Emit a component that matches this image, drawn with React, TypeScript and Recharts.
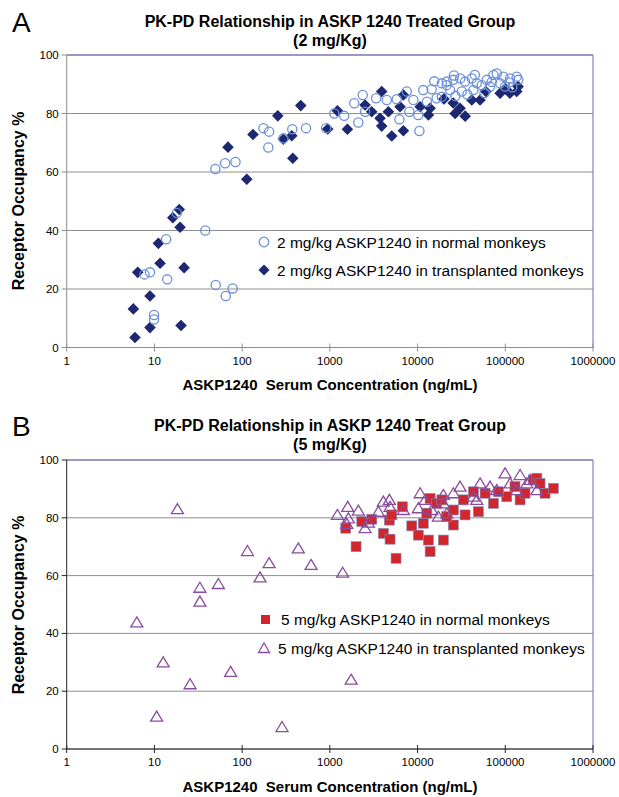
import React from "react";
import {
  ScatterChart,
  Scatter,
  XAxis,
  YAxis,
  CartesianGrid,
  ReferenceLine
} from "recharts";

const xTicks = [1, 10, 100, 1000, 10000, 100000, 1000000];
const yTicks = [0, 20, 40, 60, 80, 100];

// panel A, 2 mg/kg, normal monkeys (open circles)
const normal2Conc = [
  18, 38, 13.6, 7.7, 8.9, 14, 50, 78, 65, 9.9, 9.9, 49.5, 64, 84, 175, 203, 199,
  295, 373, 535, 906, 1125, 1460, 2110, 1900, 2370, 2520, 3370, 4460, 5790, 6200,
  8060, 10200, 10500, 7530, 8960, 11600, 14500, 16500, 18900, 21500, 21500, 25600,
  30600, 34800, 41500, 47300, 61500, 73300, 80000, 95200, 113500, 135000, 141000,
  18900, 23500, 31900, 43300, 67100, 99500, 54000, 87300, 12800, 27000, 37000,
  15500, 58000, 120000, 26000, 45000, 70000, 110000
];
const normal2RO = [
  46, 40, 37, 25, 25.7, 23.3, 21.4, 20.2, 17.6, 11.1, 9.6, 61, 63, 63.4, 75, 73.8,
  68.4, 71.5, 74.6, 75, 75, 80, 79.2, 76.9, 83.5, 86.3, 80.6, 85.2, 84.6, 84.9, 78,
  80.6, 79.5, 74, 87.5, 84.6, 88, 88.3, 85.2, 90.3, 89.7, 90.9, 91.5, 92, 90.9, 92,
  90.3, 91.5, 93.2, 93.7, 92.6, 92, 92.6, 91.5, 85.7, 88, 87.5, 88, 89.2, 89.2,
  89.7, 90.3, 84, 86, 86.5, 91, 87, 89, 93, 93.2, 90.8, 90.6
];

// panel A, 2 mg/kg, transplanted monkeys (diamonds)
const trans2Conc = [
  19.2, 16.2, 19.6, 11.1, 11.6, 6.45, 21.8, 8.9, 5.75, 8.9, 20.1, 6, 69, 113, 133,
  255, 466, 295, 368, 378, 946, 1220, 1585, 2520, 3000, 3900, 3735, 3900, 4650,
  5080, 6890, 6310, 10700, 13300, 13900, 6890, 26800, 34900, 30500, 41500, 51600,
  87300, 113000, 140000, 135000, 25500, 20000, 60000, 100000
];
const trans2RO = [
  47.2, 44.4, 41.1, 35.6, 28.8, 25.7, 27.3, 17.6, 13.2, 6.8, 7.5, 3.4, 68.5, 57.5,
  72.8, 79.2, 82.7, 71.2, 72.4, 64.7, 74.7, 80.9, 74.6, 82.9, 80.6, 87.5, 78.4,
  75.7, 80.6, 72.3, 74.1, 82.3, 82.3, 79.5, 81.8, 86.3, 80, 79.1, 81.8, 84.6, 84.6,
  86.9, 86.9, 89.2, 87.5, 83.6, 85, 87.5, 88.5
];

// panel B, 5 mg/kg, normal monkeys (filled squares)
const normal5Conc = [
  1518, 1990, 2312, 3006, 4074, 4855, 5685, 4770, 5080, 6710, 8590, 10200, 13280,
  13900, 19700, 13900, 12740, 16550, 11640, 25600, 34800, 33300, 43300, 49300,
  73300, 104000, 147500, 168000, 209000, 229000, 284000, 354000, 21500, 25600,
  58900, 83500, 129000, 249000, 18900
];
const normal5RO = [
  76.4, 70, 78.7, 79.5, 74.6, 72.6, 66, 79.2, 81, 83.8, 77.2, 74, 72.3, 68.3, 72.3,
  86.7, 81.6, 85, 78.1, 77.5, 81, 86.2, 89, 82.1, 85, 87.3, 86.2, 88.5, 93.1, 93.7,
  88.5, 90.2, 80.4, 82.7, 88.5, 89, 90.8, 91.9, 86.2
];

// panel B, 5 mg/kg, transplanted monkeys (open triangles)
const trans5Conc = [
  18.3, 115, 33, 53.6, 33, 6.3, 12.6, 25.5, 74, 10.6, 437, 203, 611, 1400, 160,
  1750, 285, 1218, 1600, 2113, 1626, 1560, 2520, 2750, 3573, 4074, 4770, 4855,
  6890, 10700, 12170, 10200, 14500, 17260, 19680, 30500, 25600, 51600, 67100,
  99500, 147500, 176000, 229000, 43300, 80000, 113500, 19700, 21500, 47300,
  135000, 192000
];
const trans5RO = [
  83, 68.5, 55.8, 57.1, 51, 43.8, 30, 22.4, 26.7, 11.2, 69.4, 64.3, 63.7, 61, 59.4,
  24, 7.6, 81, 83.8, 82.5, 79.8, 77.9, 76.4, 78.3, 82.1, 85.6, 86.2, 83.8, 82.7,
  88.5, 86.2, 83.3, 82.7, 80.4, 87.9, 90.8, 88.5, 91.9, 90.8, 95.4, 94.8, 91.9,
  89.6, 87.3, 89.6, 91.9, 85, 81.5, 86.2, 89.6, 93.1
];

const pts = (xs: number[], ys: number[]) =>
  xs.map((x, i) => ({ x, y: ys[i] }));

const sans = '"Liberation Sans", Arial, sans-serif';
const narrow = '"Liberation Sans Narrow", "Liberation Sans", Arial, sans-serif';

const BLUE = "#6a8fd8";
const NAVY = "#1d2870";
const RED = "#d3252c";
const PURPLE = "#8a4c9c";
const FRAME = "#9485c2";

const OpenCircle = (p: any) => (
  <circle cx={p.cx} cy={p.cy} r={4.6} fill="none" stroke={BLUE} strokeWidth={1.3} />
);
const Diamond = (p: any) => (
  <path
    d={`M${p.cx},${p.cy - 5.8}L${p.cx + 5.8},${p.cy}L${p.cx},${p.cy + 5.8}L${p.cx - 5.8},${p.cy}Z`}
    fill={NAVY}
  />
);
const Square = (p: any) => (
  <rect
    x={p.cx - 5}
    y={p.cy - 5}
    width={10}
    height={10}
    fill={RED}
    stroke="#7d8fc0"
    strokeWidth={0.6}
  />
);
const Triangle = (p: any) => (
  <path
    d={`M${p.cx},${p.cy - 5.5}L${p.cx + 6},${p.cy + 4.5}L${p.cx - 6},${p.cy + 4.5}Z`}
    fill="none"
    stroke={PURPLE}
    strokeWidth={1.3}
  />
);

const XTick = ({ x, y, payload, color }: any) => (
  <g>
    <line x1={x} x2={x} y1={y - 4} y2={y + 4} stroke={color} />
    <text
      x={x}
      y={y + 17}
      textAnchor="middle"
      fontSize={11.5}
      fontFamily={narrow}
      fill="#000"
    >
      {payload.value}
    </text>
  </g>
);

const yTickStyle = { fontSize: 11.5, fill: "#000", fontFamily: narrow };

export default function App() {
  return (
    <div
      style={{
        position: "absolute",
        left: 0,
        top: 0,
        width: 619,
        height: 797,
        overflow: "hidden",
        background: "#fff"
      }}
    >
      <div style={{ position: "absolute", left: 0, top: 0 }}>
        <ScatterChart
          width={619}
          height={400}
          margin={{ top: 55, right: 26, bottom: 22.5, left: 6.7 }}
        >
          <CartesianGrid vertical={false} stroke="#8e8e8e" />
          <XAxis
            type="number"
            dataKey="x"
            scale="log"
            domain={[1, 1000000]}
            ticks={xTicks}
            allowDataOverflow
            interval={0}
            height={30}
            stroke="#8e8e8e"
            tickLine={false}
            tickSize={0}
            tickMargin={0}
            tick={(p: any) => <XTick {...p} color="#8e8e8e" />}
          />
          <YAxis
            type="number"
            dataKey="y"
            domain={[0, 100]}
            ticks={yTicks}
            interval={0}
            width={60}
            stroke="#8e8e8e"
            tickSize={5}
            tickMargin={3}
            tick={yTickStyle}
          />
          <ReferenceLine y={100} stroke={FRAME} strokeWidth={1.3} />
          <ReferenceLine x={1000000} stroke={FRAME} strokeWidth={1.3} />
          <Scatter
            data={pts(trans2Conc, trans2RO)}
            shape={Diamond}
            isAnimationActive={false}
          />
          <Scatter
            data={pts(normal2Conc, normal2RO)}
            shape={OpenCircle}
            isAnimationActive={false}
          />
        </ScatterChart>
      </div>

      <div style={{ position: "absolute", left: 0, top: 400 }}>
        <ScatterChart
          width={619}
          height={397}
          margin={{ top: 60, right: 26, bottom: 18, left: 6.7 }}
        >
          <CartesianGrid vertical={false} stroke="#8e8e8e" />
          <XAxis
            type="number"
            dataKey="x"
            scale="log"
            domain={[1, 1000000]}
            ticks={xTicks}
            allowDataOverflow
            interval={0}
            height={30}
            stroke="#222"
            tickLine={false}
            tickSize={0}
            tickMargin={0}
            tick={(p: any) => <XTick {...p} color="#222" />}
          />
          <YAxis
            type="number"
            dataKey="y"
            domain={[0, 100]}
            ticks={yTicks}
            interval={0}
            width={60}
            stroke="#222"
            tickSize={5}
            tickMargin={3}
            tick={yTickStyle}
          />
          <ReferenceLine y={100} stroke={FRAME} strokeWidth={1.3} />
          <ReferenceLine x={1000000} stroke={FRAME} strokeWidth={1.3} />
          <Scatter
            data={pts(normal5Conc, normal5RO)}
            shape={Square}
            isAnimationActive={false}
          />
          <Scatter
            data={pts(trans5Conc, trans5RO)}
            shape={Triangle}
            isAnimationActive={false}
          />
        </ScatterChart>
      </div>

      <svg
        width={619}
        height={797}
        style={{ position: "absolute", left: 0, top: 0, pointerEvents: "none" }}
        fontFamily={sans}
      >
        <text x={12} y={32} fontSize={28}>A</text>
        <text x={330} y={27} textAnchor="middle" fontSize={16} fontWeight="bold">
          PK-PD Relationship in ASKP 1240 Treated Group
        </text>
        <text x={330} y={46} textAnchor="middle" fontSize={16} fontWeight="bold">
          (2 mg/Kg)
        </text>
        <text
          transform="translate(24,201) rotate(-90)"
          textAnchor="middle"
          fontSize={16}
          fontWeight="bold"
        >
          Receptor Occupancy %
        </text>
        <text
          x={330}
          y={390}
          textAnchor="middle"
          fontSize={15}
          fontWeight="bold"
          style={{ whiteSpace: "pre" }}
        >
          {"ASKP1240  Serum Concentration (ng/mL)"}
        </text>

        <circle cx={264} cy={242} r={4.8} fill="none" stroke={BLUE} strokeWidth={1.3} />
        <text x={277} y={247.5} fontSize={15.5}>
          2 mg/kg ASKP1240 in normal monkeys
        </text>
        <path d="M264,264.5L269.5,270L264,275.5L258.5,270Z" fill={NAVY} />
        <text x={277} y={275.5} fontSize={15.5}>
          2 mg/kg ASKP1240 in transplanted monkeys
        </text>

        <text x={12} y={436} fontSize={28}>B</text>
        <text x={330} y={431} textAnchor="middle" fontSize={16} fontWeight="bold">
          PK-PD Relationship in ASKP 1240 Treat Group
        </text>
        <text x={330} y={450} textAnchor="middle" fontSize={16} fontWeight="bold">
          (5 mg/Kg)
        </text>
        <text
          transform="translate(24,605) rotate(-90)"
          textAnchor="middle"
          fontSize={16}
          fontWeight="bold"
        >
          Receptor Occupancy %
        </text>
        <text
          x={330}
          y={792}
          textAnchor="middle"
          fontSize={15}
          fontWeight="bold"
          style={{ whiteSpace: "pre" }}
        >
          {"ASKP1240  Serum Concentration (ng/mL)"}
        </text>

        <rect x={261} y={615} width={9} height={9} fill={RED} />
        <text x={281} y={624.5} fontSize={15.5}>
          5 mg/kg ASKP1240 in normal monkeys
        </text>
        <path d="M264,643L269.5,652.5L258.5,652.5Z" fill="none" stroke={PURPLE} strokeWidth={1.3} />
        <text x={278} y={653.5} fontSize={15.5}>
          5 mg/kg ASKP1240 in transplanted monkeys
        </text>
      </svg>
    </div>
  );
}
